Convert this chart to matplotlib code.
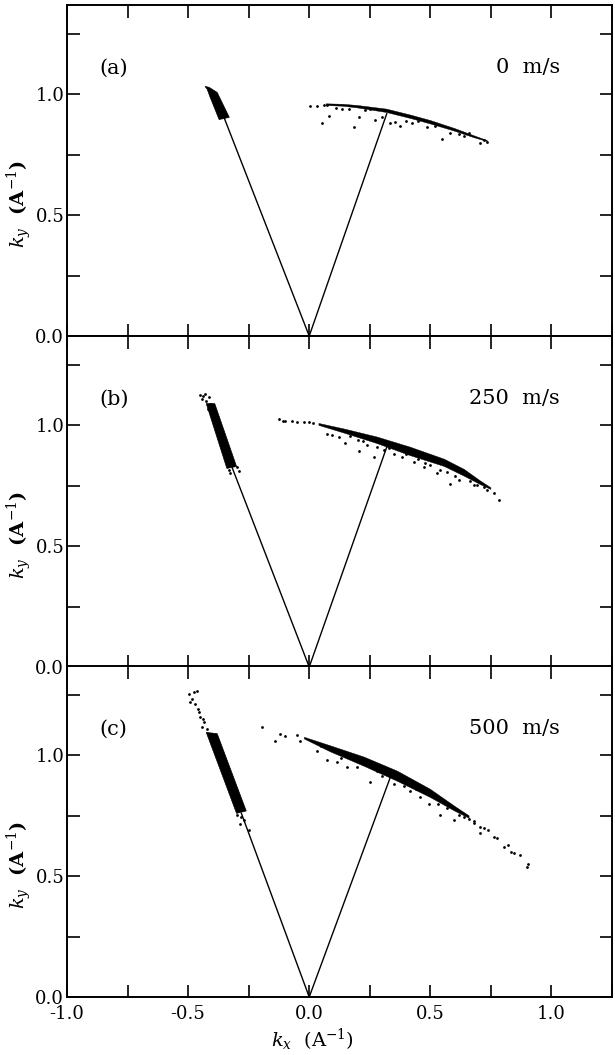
import matplotlib.pyplot as plt
from matplotlib.ticker import MultipleLocator, FuncFormatter

plt.rcParams['font.family'] = ['DejaVu Serif']
plt.rcParams['mathtext.fontset'] = 'dejavuserif'

panel_tags = ['(a)', '(b)', '(c)']
speeds = ['0  m/s', '250  m/s', '500  m/s']

# incident / scattered wavevector end points (kx, ky)
line_left_x = [-0.35, -0.32, -0.28]
line_left_y = [0.90, 0.83, 0.76]
line_right_x = [0.32, 0.32, 0.335]
line_right_y = [0.92, 0.91, 0.91]

# dense incident-beam cluster outlines
a_left_x = [-0.430, -0.413, -0.380, -0.330, -0.372, -0.409, -0.421]
a_left_y = [1.033, 1.029, 1.008, 0.905, 0.896, 0.988, 1.021]
b_left_x = [-0.425, -0.390, -0.300, -0.340]
b_left_y = [1.090, 1.090, 0.830, 0.822]
c_left_x = [-0.425, -0.380, -0.260, -0.300]
c_left_y = [1.095, 1.090, 0.770, 0.760]

# dense scattered-beam arc: upper and lower edges
a_arc_x = [0.07, 0.14, 0.20, 0.32, 0.42, 0.50, 0.60, 0.68, 0.735]
a_arc_top = [0.961, 0.959, 0.954, 0.939, 0.914, 0.892, 0.859, 0.829, 0.809]
a_arc_bot = [0.954, 0.951, 0.944, 0.925, 0.900, 0.878, 0.848, 0.821, 0.805]
b_arc_x = [0.04, 0.145, 0.28, 0.417, 0.558, 0.64, 0.707, 0.75]
b_arc_top = [1.008, 0.985, 0.952, 0.910, 0.860, 0.818, 0.770, 0.742]
b_arc_bot = [1.000, 0.968, 0.925, 0.875, 0.830, 0.790, 0.755, 0.735]
c_arc_x = [-0.02, 0.087, 0.227, 0.364, 0.50, 0.60, 0.66]
c_arc_top = [1.075, 1.040, 0.993, 0.935, 0.860, 0.790, 0.750]
c_arc_bot = [1.068, 1.015, 0.955, 0.893, 0.826, 0.770, 0.740]

# isolated points
a_dots_x = [0.004, 0.033, 0.06, 0.074, 0.054, 0.083, 0.136, 0.165, 0.186, 0.207, 0.252,
            0.273, 0.335, 0.376, 0.426, 0.488, 0.55, 0.64, 0.66, 0.707, 0.72, 0.735,
            0.30, 0.355, 0.40, 0.58, 0.62, 0.11, 0.23, 0.45, 0.52]
a_dots_y = [0.950, 0.952, 0.955, 0.958, 0.880, 0.909, 0.938, 0.938, 0.867, 0.905, 0.938,
            0.892, 0.880, 0.871, 0.880, 0.863, 0.817, 0.826, 0.842, 0.800, 0.810, 0.805,
            0.905, 0.885, 0.890, 0.840, 0.835, 0.945, 0.935, 0.890, 0.870]
b_dots_x = [-0.45, -0.43, -0.413, -0.442, -0.41, -0.417, -0.40, -0.33, -0.298, -0.29,
            -0.326, -0.44, -0.425,
            -0.124, -0.11, -0.10, -0.07, -0.05, -0.021, 0.0, 0.015,
            0.074, 0.095, 0.124, 0.149, 0.207, 0.269, 0.281, 0.351, 0.384, 0.434, 0.475,
            0.529, 0.583, 0.57, 0.62, 0.665, 0.694, 0.736, 0.764, 0.785, 0.20, 0.24,
            0.31, 0.45, 0.50, 0.17, 0.22, 0.33, 0.40, 0.48, 0.54, 0.60, 0.68, 0.72]
b_dots_y = [1.125, 1.129, 1.116, 1.108, 1.087, 1.066, 1.054, 0.817, 0.826, 0.810,
            0.805, 1.120, 1.100,
            1.025, 1.020, 1.017, 1.017, 1.015, 1.012, 1.012, 1.010,
            0.963, 0.959, 0.950, 0.929, 0.892, 0.871, 0.909, 0.880, 0.871, 0.850, 0.826,
            0.805, 0.759, 0.809, 0.776, 0.768, 0.755, 0.734, 0.722, 0.693, 0.940, 0.920,
            0.900, 0.860, 0.835, 0.955, 0.935, 0.905, 0.880, 0.845, 0.815, 0.790, 0.755,
            0.745]
c_dots_x = [-0.496, -0.475, -0.463, -0.483, -0.492, -0.471, -0.455, -0.45, -0.434, -0.442,
            -0.421, -0.46, -0.44, -0.298, -0.269, -0.285, -0.248, -0.28,
            -0.194, -0.14, -0.12, -0.099, -0.05, -0.037,
            0.033, 0.074, 0.116, 0.157, 0.198, 0.252, 0.322, 0.351, 0.417, 0.459, 0.496,
            0.541, 0.57, 0.599, 0.64, 0.682, 0.707, 0.764, 0.806, 0.831, 0.872,
            0.707, 0.74, 0.777, 0.82, 0.847, 0.90, 0.905, 0.68, 0.72,
            0.05, 0.13, 0.28, 0.30, 0.39, 0.44, 0.53, 0.62, 0.66]
c_dots_y = [1.253, 1.261, 1.266, 1.232, 1.220, 1.212, 1.178, 1.158, 1.137, 1.116,
            1.108, 1.190, 1.150, 0.755, 0.734, 0.714, 0.693, 0.745,
            1.116, 1.058, 1.087, 1.079, 1.083, 1.058,
            1.017, 0.983, 0.971, 0.954, 0.950, 0.888, 0.921, 0.880, 0.851, 0.826, 0.797,
            0.755, 0.784, 0.734, 0.743, 0.722, 0.680, 0.664, 0.622, 0.602, 0.589,
            0.705, 0.690, 0.660, 0.630, 0.598, 0.539, 0.550, 0.730, 0.700,
            1.040, 0.990, 0.935, 0.915, 0.875, 0.862, 0.800, 0.755, 0.735]

clusters = [(a_left_x, a_left_y), (b_left_x, b_left_y), (c_left_x, c_left_y)]
arcs = [(a_arc_x, a_arc_top, a_arc_bot), (b_arc_x, b_arc_top, b_arc_bot),
        (c_arc_x, c_arc_top, c_arc_bot)]
dots = [(a_dots_x, a_dots_y), (b_dots_x, b_dots_y), (c_dots_x, c_dots_y)]

fig = plt.figure(figsize=(6.15, 10.55), dpi=100)
W, H = 615, 1055
left, right = 67, 612
bottoms = [336, 667, 997]
ph = 331


def fmt(v, pos):
    if abs(v * 2 - round(v * 2)) < 1e-6:
        return '%.1f' % v
    return ''


for i in range(3):
    ax = fig.add_axes([left / W, (H - bottoms[i]) / H, (right - left) / W, ph / H])
    ax.set_xlim(-1.0, 1.25)
    ax.set_ylim(0, 1.37)

    # wavevector lines
    ax.plot([line_left_x[i], 0, line_right_x[i]], [line_left_y[i], 0, line_right_y[i]],
            color='black', lw=1.0, zorder=2)

    cx, cy = clusters[i]
    ax.fill(cx, cy, color='black', lw=0.5, zorder=3)
    axx, top, bot = arcs[i]
    ax.fill(axx + axx[::-1], top + bot[::-1], color='black', lw=0.3, zorder=3)
    dx, dy = dots[i]
    ax.scatter(dx, dy, s=4, color='black', lw=0, zorder=3)

    ax.text(0.06, 0.81, panel_tags[i], transform=ax.transAxes, fontsize=15,
            ha='left', va='center')
    ax.text(0.905, 0.81, speeds[i], transform=ax.transAxes, fontsize=15,
            ha='right', va='center')

    ax.xaxis.set_major_locator(MultipleLocator(0.25))
    ax.yaxis.set_major_locator(MultipleLocator(0.25))
    ax.xaxis.set_major_formatter(FuncFormatter(fmt))
    ax.yaxis.set_major_formatter(FuncFormatter(fmt))
    ax.tick_params(direction='in', length=9, width=1.2, top=True, right=True,
                   labelsize=13, pad=2)
    ax.tick_params(axis='x', pad=6)
    if i < 2:
        ax.tick_params(labelbottom=False)
    for sp in ax.spines.values():
        sp.set_linewidth(1.4)

    ax.set_ylabel('$k_y$  (A$^{-1}$)', fontsize=14, fontweight='bold')
    ax.yaxis.set_label_coords(-0.06, 0.40)

    if i == 2:
        ax.set_xlabel('$k_x$  (A$^{-1}$)', fontsize=14)
        ax.xaxis.set_label_coords(0.45, -0.09)

fig.savefig('out.png', dpi=100)
